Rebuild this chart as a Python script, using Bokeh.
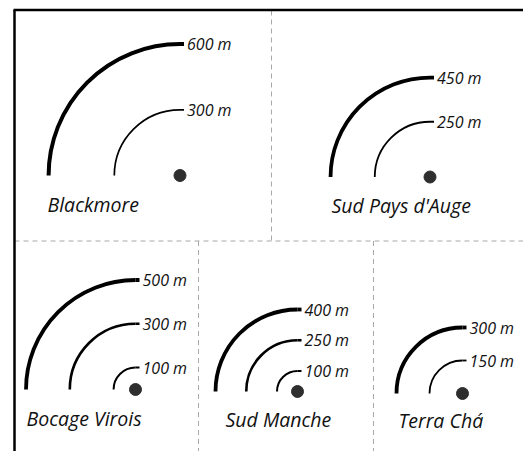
from math import pi
from bokeh.plotting import figure
from bokeh.models import Range1d, ColumnDataSource
from bokeh.core.properties import value
from bokeh.embed import file_html
from bokeh.resources import INLINE

# ---- data: panel names and distances (metres) ----
panels = ["Blackmore", "Sud Pays d'Auge", "Bocage Virois", "Sud Manche", "Terra Chá"]
blackmore_m = [600, 300]
sud_pays_auge_m = [450, 250]
bocage_virois_m = [500, 300, 100]
sud_manche_m = [400, 250, 100]
terra_cha_m = [300, 150]
distances = [blackmore_m, sud_pays_auge_m, bocage_virois_m, sud_manche_m, terra_cha_m]
unit = "m"

# ---- layout / style (page pixels) ----
W, H = 523, 451
S = 0.22  # base pixels per metre
dot_pos = [(179.5, 175), (429.5, 176.5), (135, 389), (297, 391), (462, 393)]
name_x = [47, 331, 26, 225, 398]
name_dy = [29, 28, 29, 28, 27]
panel_scale = [0.219, 0.221, 0.219, 0.205, 0.22]
line_widths = [[4.0, 1.7], [3.8, 1.8], [3.8, 2.6, 2.0], [3.8, 2.6, 2.0], [3.8, 1.8]]
FONT = value("Open Sans")


def to_data(px, py):
    return (px / S, (H - py) / S)


p = figure(width=W, height=H, x_range=Range1d(0, W / S), y_range=Range1d(0, H / S),
           output_backend="svg", toolbar_location=None, min_border=0,
           x_axis_location=None, y_axis_location=None)
p.grid.visible = False
p.outline_line_color = None
p.background_fill_color = "white"

# separators
dash_col = "#a8a8a8"
seps = [((14, 240.5), (523, 240.5)), ((271, 10), (271, 240.5)),
        ((198, 240.5), (198, 451)), ((373, 240.5), (373, 451))]
for (a, b) in seps:
    x0, y0 = to_data(*a)
    x1, y1 = to_data(*b)
    p.segment(x0=[x0], y0=[y0], x1=[x1], y1=[y1], line_color=dash_col,
              line_width=1, line_dash="5 4")

# borders
bx0, by0 = to_data(13, 9.5)
bx1, by1 = to_data(523, 9.5)
p.segment(x0=[bx0], y0=[by0], x1=[bx1], y1=[by1], line_color="black", line_width=2.5)
lx0, ly0 = to_data(14, 9.5)
lx1, ly1 = to_data(14, 451)
p.segment(x0=[lx0], y0=[ly0], x1=[lx1], y1=[ly1], line_color="black", line_width=2.5)

ax, ay, ar, alw, lab = [], [], [], [], []
dx, dy = [], []
nx, ny = [], []
for i, name in enumerate(panels):
    cx, cy = to_data(*dot_pos[i])
    k = panel_scale[i] / S
    dx.append(cx)
    dy.append(cy)
    for d, lw in zip(distances[i], line_widths[i]):
        ax.append(cx)
        ay.append(cy)
        ar.append(d * k)
        alw.append(lw)
        lab.append(f"{d} {unit}")
    tx, ty = to_data(name_x[i], dot_pos[i][1] + name_dy[i])
    nx.append(tx)
    ny.append(ty)

src = ColumnDataSource(dict(x=ax, y=ay, r=ar, lw=alw, lab=lab,
                            ty=[y + r for y, r in zip(ay, ar)]))
p.arc(x="x", y="y", radius="r", start_angle=pi / 2, end_angle=pi,
      line_width="lw", line_color="black", source=src)
p.ray(x="x", y="ty", length=4, length_units="screen", angle=0,
      line_width="lw", line_color="black", source=src)
p.text(x="x", y="ty", text="lab", x_offset=7, text_baseline="middle",
       text_align="left", text_font=FONT, text_font_style="italic",
       text_font_size="16px", text_color="#111111", source=src)

p.scatter(x=dx, y=dy, size=12, color="#2e2e2e")
p.text(x=nx, y=ny, text=panels, text_baseline="middle", text_align="left",
       text_font=FONT, text_font_style="italic", text_font_size="19.5px",
       text_color="#111111")

open("out.html", "w").write(file_html(p, INLINE))
